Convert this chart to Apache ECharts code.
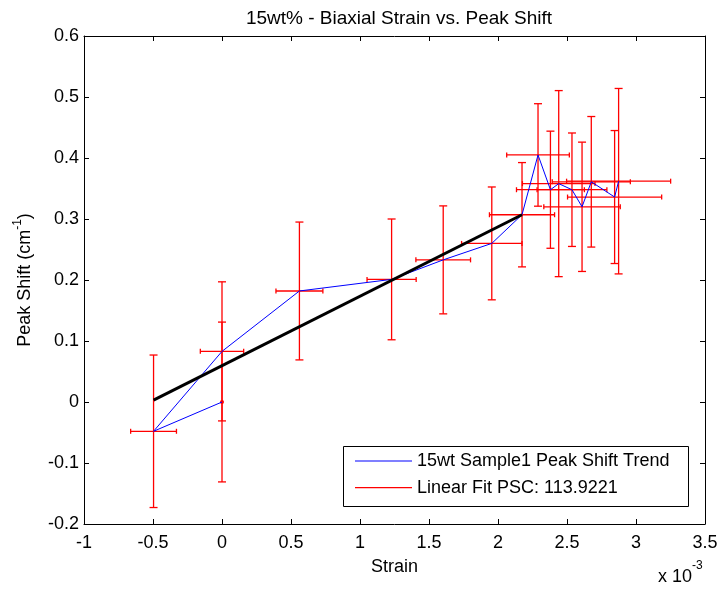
<!DOCTYPE html>
<html><head><meta charset="utf-8">
<script src="https://cdn.jsdelivr.net/npm/echarts@6/dist/echarts.min.js"></script>
<style>html,body{margin:0;padding:0;background:#fff}#c{width:723px;height:592px}</style>
</head><body><div id="c"></div>
<script>
// Strain values in units of 1e-3 (axis shows "x 10^-3")
const strain    = [0.000, -0.496, 0.000, 0.561, 1.229, 1.603, 1.955, 2.174, 2.290, 2.380, 2.440, 2.536, 2.609, 2.676, 2.845, 2.874];
const peakShift = [0.000, -0.048, 0.083, 0.182, 0.201, 0.233, 0.260, 0.307, 0.405, 0.348, 0.358, 0.348, 0.320, 0.361, 0.336, 0.362];
const strainErr = [0.000, 0.166, 0.157, 0.170, 0.178, 0.198, 0.219, 0.236, 0.227, 0.246, 0.263, 0.253, 0.277, 0.283, 0.341, 0.377];
const shiftErr  = [0.131, 0.125, 0.114, 0.113, 0.099, 0.0885, 0.0925, 0.0855, 0.084, 0.096, 0.1525, 0.093, 0.106, 0.107, 0.109, 0.152];
const fitStrain = [-0.496, 2.174];
const fitShift  = [0.003, 0.307];
const xTickMin = -1, xTickMax = 3.5, xTickStep = 0.5;
const yTickMin = -0.2, yTickMax = 0.6, yTickStep = 0.1;
const titleText = '15wt% - Biaxial Strain vs. Peak Shift';
const trendName = '15wt Sample1 Peak Shift Trend';
const fitName = 'Linear Fit PSC: 113.9221';

const FONT = "'Liberation Sans', Arial, Helvetica, sans-serif";
const FS = 18;

const chart = echarts.init(document.getElementById('c'), null, {renderer: 'canvas'});

const trendData = strain.map((s, i) => [s, peakShift[i]]);
const errData = strain.map((s, i) => [s, peakShift[i], strainErr[i], shiftErr[i]]);
const fitData = fitStrain.map((s, i) => [s, fitShift[i]]);

function renderErr(params, api) {
  const x = api.value(0), y = api.value(1), ex = api.value(2), ey = api.value(3);
  const c = api.coord([x, y]);
  const t = api.coord([x, y + ey]), b = api.coord([x, y - ey]);
  const l = api.coord([x - ex, y]), r = api.coord([x + ex, y]);
  const st = {stroke: '#ff0000', lineWidth: 1.3, fill: null};
  const cw = 4, ch = 2.5;
  const ch_ = [
    {type: 'line', shape: {x1: t[0], y1: t[1], x2: b[0], y2: b[1]}, style: st},
    {type: 'line', shape: {x1: t[0] - cw, y1: t[1], x2: t[0] + cw, y2: t[1]}, style: st},
    {type: 'line', shape: {x1: b[0] - cw, y1: b[1], x2: b[0] + cw, y2: b[1]}, style: st}
  ];
  if (ex > 0) {
    ch_.push({type: 'line', shape: {x1: l[0], y1: l[1], x2: r[0], y2: r[1]}, style: st});
    ch_.push({type: 'line', shape: {x1: l[0], y1: l[1] - ch, x2: l[0], y2: l[1] + ch}, style: st});
    ch_.push({type: 'line', shape: {x1: r[0], y1: r[1] - ch, x2: r[0], y2: r[1] + ch}, style: st});
  } else {
    ch_.push({type: 'circle', shape: {cx: c[0], cy: c[1], r: 2}, style: {fill: '#ff0000'}});
  }
  return {type: 'group', children: ch_};
}

const axisCommon = {
  axisLine: {show: true, onZero: false, lineStyle: {color: '#000', width: 1}},
  axisTick: {show: true, inside: true, length: 5, lineStyle: {color: '#000', width: 1}},
  splitLine: {show: false}
};

const option = {
  backgroundColor: '#ffffff',
  animation: false,
  textStyle: {fontFamily: FONT, color: '#000'},
  title: {
    text: titleText, left: 394, top: 4, textAlign: 'center',
    textStyle: {fontFamily: FONT, fontSize: 19, fontWeight: 'normal', color: '#000'}
  },
  grid: {left: 84, right: 18, top: 36, bottom: 68, containLabel: false, outerBoundsMode: 'none'},
  xAxis: [
    Object.assign({
      type: 'value', position: 'bottom', min: xTickMin, max: xTickMax, interval: xTickStep,
      name: 'Strain', nameLocation: 'middle', nameGap: 34,
      nameTextStyle: {fontFamily: FONT, fontSize: FS, color: '#000'},
      axisLabel: {fontFamily: FONT, fontSize: FS, color: '#000', margin: 10}
    }, axisCommon),
    Object.assign({
      type: 'value', position: 'top', min: xTickMin, max: xTickMax, interval: xTickStep,
      axisLabel: {show: false}
    }, axisCommon)
  ],
  yAxis: [
    Object.assign({
      type: 'value', position: 'left', min: yTickMin, max: yTickMax, interval: yTickStep,
      name: '{n|Peak Shift (cm}{s|-1}{n|)}', nameLocation: 'middle', nameGap: 46, nameRotate: 90,
      nameTextStyle: {
        fontFamily: FONT, color: '#000',
        rich: {
          n: {fontFamily: FONT, fontSize: FS, color: '#000', lineHeight: 26},
          s: {fontFamily: FONT, fontSize: 12, color: '#000', lineHeight: 12, verticalAlign: 'top'}
        }
      },
      axisLabel: {fontFamily: FONT, fontSize: FS, color: '#000', margin: 5}
    }, axisCommon),
    Object.assign({
      type: 'value', position: 'right', min: yTickMin, max: yTickMax, interval: yTickStep,
      axisLabel: {show: false}
    }, axisCommon)
  ],
  legend: {
    orient: 'vertical', left: 355, top: 452, padding: 0, itemGap: 8.6, z: 200, zlevel: 0,
    itemWidth: 57, itemHeight: 1.2, icon: 'rect',
    textStyle: {fontFamily: FONT, fontSize: FS, color: '#000'},
    selectedMode: false,
    data: [
      {name: trendName, itemStyle: {color: '#0000ff'}},
      {name: fitName, itemStyle: {color: '#ff0000'}}
    ]
  },
  graphic: [
    {type: 'rect', left: 343, top: 446, z: 50,
     shape: {width: 345, height: 60}, style: {fill: '#fff', stroke: '#000', lineWidth: 1}},
    {type: 'text', left: 658, top: 568, z: 100,
     style: {text: 'x 10', font: FS + 'px ' + FONT, fill: '#000'}},
    {type: 'text', left: 692, top: 560, z: 100,
     style: {text: '-3', font: '12px ' + FONT, fill: '#000'}}
  ],
  series: [
    {
      name: fitName, type: 'custom', renderItem: renderErr,
      xAxisIndex: 0, yAxisIndex: 0, data: errData,
      encode: {x: 0, y: 1}, itemStyle: {color: '#ff0000'}, z: 2, silent: true
    },
    {
      name: trendName, type: 'line', data: trendData,
      xAxisIndex: 0, yAxisIndex: 0,
      showSymbol: false, symbol: 'none', color: '#0000ff',
      lineStyle: {color: '#0000ff', width: 1}, z: 3, silent: true
    },
    {
      name: 'fit', type: 'line', data: fitData,
      xAxisIndex: 0, yAxisIndex: 0,
      showSymbol: false, symbol: 'none', color: '#000',
      lineStyle: {color: '#000', width: 3}, z: 4, silent: true
    }
  ]
};
chart.setOption(option);
</script>
</body></html>
